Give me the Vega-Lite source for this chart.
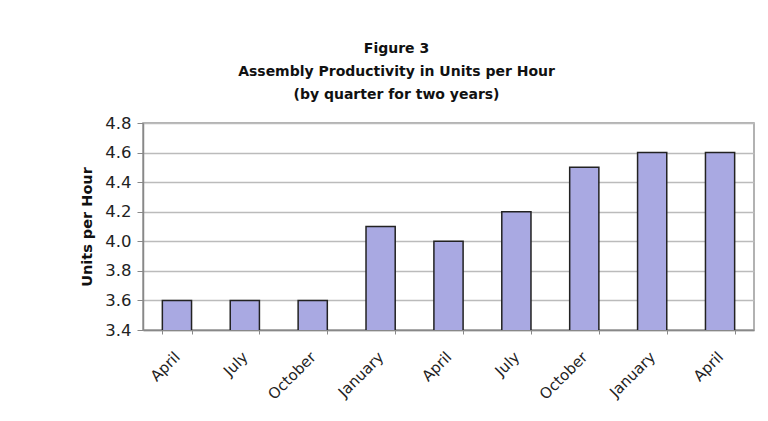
{
  "$schema": "https://vega.github.io/schema/vega-lite/v6.json",
  "width": 611,
  "height": 207,
  "autosize": "none",
  "padding": {"left": 143, "top": 123, "right": 14, "bottom": 91},
  "background": "white",
  "title": {
    "text": ["Figure 3", "Assembly Productivity in Units per Hour", "(by quarter for two years)"],
    "font": "DejaVu Sans",
    "fontSize": 14,
    "fontWeight": "bold",
    "color": "#111",
    "lineHeight": 23,
    "offset": 13,
    "dx": -52,
    "anchor": "middle"
  },
  "data": {
    "values": [
      {"i": 1, "month": "April", "units": 3.6},
      {"i": 2, "month": "July", "units": 3.6},
      {"i": 3, "month": "October", "units": 3.6},
      {"i": 4, "month": "January", "units": 4.1},
      {"i": 5, "month": "April", "units": 4.0},
      {"i": 6, "month": "July", "units": 4.2},
      {"i": 7, "month": "October", "units": 4.5},
      {"i": 8, "month": "January", "units": 4.6},
      {"i": 9, "month": "April", "units": 4.6}
    ]
  },
  "config": {
    "view": {"stroke": "#999", "strokeWidth": 1.5},
    "axis": {
      "labelFont": "DejaVu Sans",
      "titleFont": "DejaVu Sans",
      "labelColor": "#222",
      "titleColor": "#111",
      "domainColor": "#888",
      "tickColor": "#888"
    }
  },
  "mark": {"type": "bar", "fill": "#a9a9e2", "stroke": "#222", "strokeWidth": 1.5, "clip": true},
  "encoding": {
    "x": {
      "field": "i",
      "type": "ordinal",
      "scale": {"paddingInner": 0.57, "paddingOuter": 0.285},
      "axis": {
        "title": null,
        "labelExpr": "['', 'April','July','October','January','April','July','October','January','April'][datum.value]",
        "labelAngle": -45,
        "labelAlign": "right",
        "labelBaseline": "middle",
        "labelFontSize": 15,
        "labelPadding": 20,
        "labelDx": -14,
        "labelOverlap": false,
        "tickBand": "extent",
        "tickSize": 4,
        "domainWidth": 1.5
      }
    },
    "y": {
      "field": "units",
      "type": "quantitative",
      "scale": {"domain": [3.4, 4.8], "zero": false, "nice": false},
      "axis": {
        "title": "Units per Hour",
        "titleFontSize": 14.5,
        "titleFontWeight": "bold",
        "titlePadding": 10,
        "values": [3.4, 3.6, 3.8, 4.0, 4.2, 4.4, 4.6, 4.8],
        "format": ".1f",
        "labelFontSize": 16.5,
        "labelPadding": 6,
        "tickSize": 6,
        "gridColor": "#bbbbbb",
        "gridWidth": 1.5,
        "domainWidth": 1.5
      }
    }
  }
}
